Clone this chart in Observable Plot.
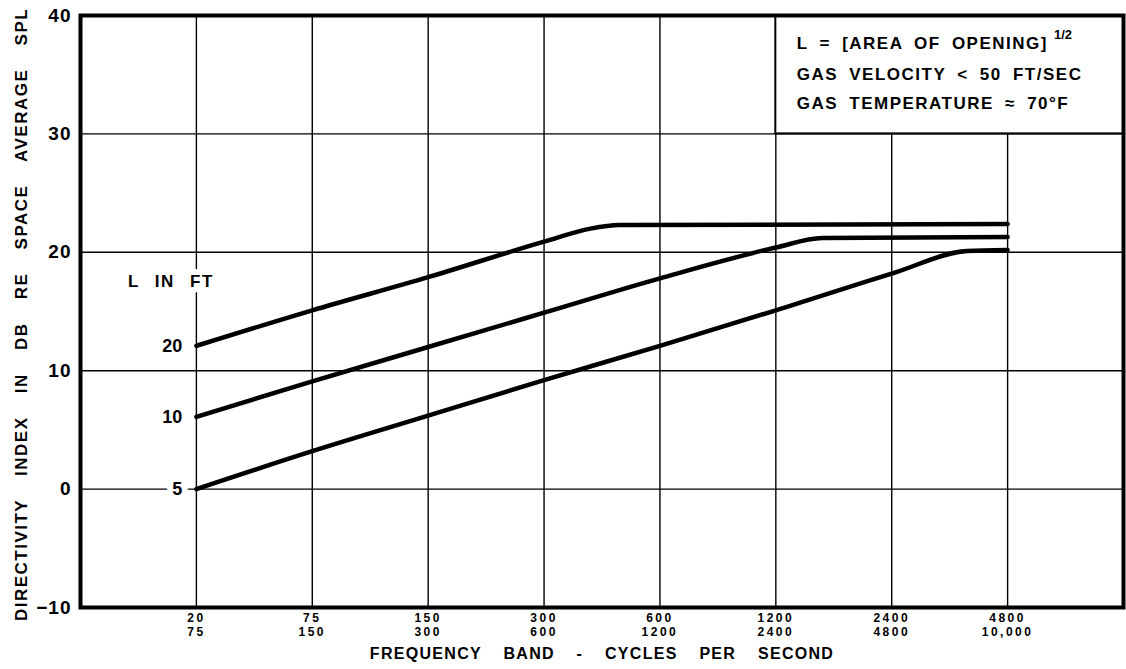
<!DOCTYPE html>
<html><head><meta charset="utf-8">
<script src="https://cdn.jsdelivr.net/npm/d3@7"></script>
<script src="https://cdn.jsdelivr.net/npm/@observablehq/plot@0.6"></script>
<style>
body{margin:0;background:#fff;}
#chart svg{font-family:"Liberation Sans",Arial,sans-serif;font-weight:bold;}
.ytitle text{letter-spacing:1.5px;word-spacing:17px;}
.xtitle text{letter-spacing:1.3px;word-spacing:16px;}
.xticks text{letter-spacing:2.5px;}
.yticks text{letter-spacing:1px;}
.lin text{letter-spacing:1.5px;word-spacing:9px;}
.legend text{letter-spacing:1.5px;word-spacing:5px;}
</style>
</head><body><div id="chart"></div>
<script>
// Frequency bands (octave bands, index positions)
const bands = [0, 1, 2, 3, 4, 5, 6, 7];
const bandLow  = ["20", "75", "150", "300", "600", "1200", "2400", "4800"];
const bandHigh = ["75", "150", "300", "600", "1200", "2400", "4800", "10,000"];
const yTicks = [-10, 0, 10, 20, 30, 40];

// Curves: L = 20 ft, 10 ft, 5 ft (band index, directivity index dB)
const seriesNames = ["20", "10", "5"];
const l20Band = [0, 1, 2, 3, 3.4, 3.65, 7];
const l20DI   = [12.1, 15.1, 17.9, 20.9, 22.0, 22.3, 22.4];
const l10Band = [0, 1, 2, 3, 4, 5, 5.4, 7];
const l10DI   = [6.1, 9.1, 12.0, 14.9, 17.8, 20.4, 21.2, 21.3];
const l5Band  = [0, 1, 2, 3, 4, 5, 6, 6.65, 7];
const l5DI    = [0.0, 3.2, 6.2, 9.2, 12.1, 15.1, 18.2, 20.1, 20.2];

const legendLines = ["L = [AREA OF OPENING]", "GAS VELOCITY < 50 FT/SEC", "GAS TEMPERATURE \u2248 70\u00b0F"];
const yTitle = "DIRECTIVITY INDEX IN DB RE SPACE AVERAGE SPL";
const xTitle = "FREQUENCY BAND - CYCLES PER SECOND";

const curves = [
  {name: seriesNames[0], xs: l20Band, ys: l20DI},
  {name: seriesNames[1], xs: l10Band, ys: l10DI},
  {name: seriesNames[2], xs: l5Band, ys: l5DI}
];
const pts = curves.flatMap(c => c.xs.map((x, i) => ({L: c.name, band: x, di: c.ys[i]})));
const starts = curves.map(c => ({L: c.name, band: c.xs[0], di: c.ys[0]}));

const legendY = [37.6, 35.0, 32.6];
const legendRows = legendLines.map((t, i) => ({t, y: legendY[i]}));

const chart = Plot.plot({
  width: 1126,
  height: 669,
  marginLeft: 80,
  marginRight: 3,
  marginTop: 15,
  marginBottom: 62,
  x: {domain: [-1, 8], axis: null},
  y: {domain: [-10, 40], axis: null},
  marks: [
    Plot.gridY(yTicks, {stroke: "black", strokeOpacity: 1, strokeWidth: 1.4}),
    Plot.gridX(bands, {stroke: "black", strokeOpacity: 1, strokeWidth: 1.4}),
    Plot.rect([{x1: 5, x2: 8, y1: 30, y2: 40}], {x1: "x1", x2: "x2", y1: "y1", y2: "y2", fill: "white", stroke: "black", strokeWidth: 2}),
    Plot.line(pts, {x: "band", y: "di", z: "L", stroke: "black", strokeWidth: 4.5, curve: "monotone-x"}),
    Plot.text(starts, {x: "band", y: "di", text: "L", textAnchor: "end", dx: -14, fontSize: 18, fontWeight: "bold", fill: "black", stroke: "white", strokeWidth: 12, paintOrder: "stroke"}),
    Plot.text(["L IN FT"], {x: -0.22, y: 17.5, fontSize: 17, fontWeight: "bold", fill: "black", stroke: "white", strokeWidth: 12, paintOrder: "stroke", className: "lin"}),
    Plot.text(legendRows, {x: 5.18, y: "y", text: "t", textAnchor: "start", fontSize: 17, fontWeight: "bold", fill: "black", className: "legend"}),
    Plot.text(["1/2"], {x: 7.40, y: 38.4, textAnchor: "start", fontSize: 13, fontWeight: "bold", fill: "black"}),
    Plot.frame({stroke: "black", strokeWidth: 4}),
    Plot.axisY(yTicks, {tickSize: 0, tickPadding: 9, fontSize: 19, fontWeight: "bold", label: null, className: "yticks"}),
    Plot.axisX(bands, {tickSize: 0, tickPadding: 5, fontSize: 12, fontWeight: "bold", lineHeight: 1.15, label: null, tickFormat: i => bandLow[i] + "\n" + bandHigh[i], className: "xticks"}),
    Plot.text([yTitle], {frameAnchor: "left", textAnchor: "middle", rotate: -90, dx: -59, dy: 3, fontSize: 17, fontWeight: "bold", fill: "black", className: "ytitle"}),
    Plot.text([xTitle], {frameAnchor: "bottom", dy: 51, fontSize: 16, fontWeight: "bold", fill: "black", className: "xtitle"})
  ]
});
document.getElementById("chart").appendChild(chart);
</script>
</body></html>
